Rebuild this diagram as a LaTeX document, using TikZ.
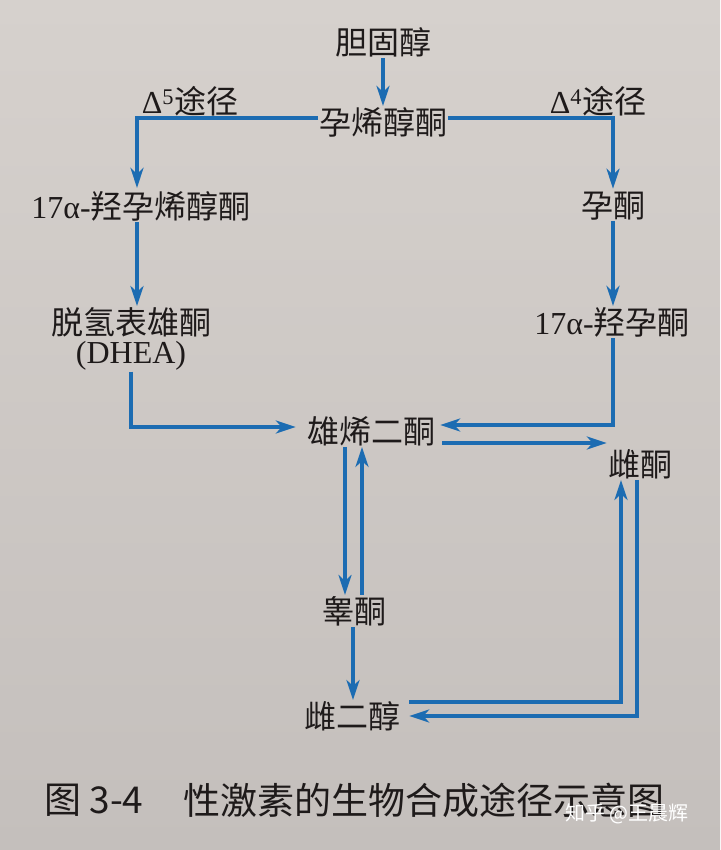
\documentclass[tikz,border=0pt]{standalone}
\usepackage{fontspec}
\setmainfont{Liberation Serif}
\newfontfamily\cjk{Noto Sans CJK SC}
\usetikzlibrary{arrows.meta}
\definecolor{papertop}{RGB}{214,209,205}
\definecolor{paperbot}{RGB}{196,191,188}
\definecolor{ink}{RGB}{30,26,26}
\definecolor{arr}{RGB}{28,108,178}
\newcommand\lat[1]{{\rmfamily #1}}
\begin{document}
\begin{tikzpicture}[x=1pt,y=-1pt,
  lbl/.style={font=\fontsize{32}{35}\selectfont\cjk, text=ink, inner sep=1pt},
  captxt/.style={font=\fontsize{37}{40}\selectfont\cjk, text=ink, inner sep=0pt},
  wm/.style={font=\fontsize{20}{22}\selectfont\cjk, text=white, inner sep=0pt},
  conn/.style={draw=arr, line width=3.4pt, -{Stealth[length=20pt,width=13pt,inset=6pt]}}]
\useasboundingbox (0,0) rectangle (720,850);
\shade[top color=papertop, bottom color=paperbot] (0,0) rectangle (720,850);

% nodes
\node[lbl] (chol) at (383,42) {胆固醇};
\node[lbl] (preg) at (383,122) {孕烯醇酮};
\node[lbl] (d5) at (190,101) {\lat{Δ\textsuperscript{5}}途径};
\node[lbl] (d4) at (598,101) {\lat{Δ\textsuperscript{4}}途径};
\node[lbl] (ohpreg) at (141,206) {\lat{17α-}羟孕烯醇酮};
\node[lbl] (prog) at (613,206) {孕酮};
\node[lbl] (dhea) at (131,322) {脱氢表雄酮};
\node[lbl] (dheaab) at (131,356) {\lat{(DHEA)}};
\node[lbl] (ohprog) at (612,322) {\lat{17α-}羟孕酮};
\node[lbl] (andro) at (371,431) {雄烯二酮};
\node[lbl] (estrone) at (640,464) {雌酮};
\node[lbl] (testo) at (354,611) {睾酮};
\node[lbl] (estradiol) at (352,716) {雌二醇};

% caption and watermark
\node[captxt, anchor=west] (capnum) at (44,800) {图 3-4};
\node[captxt, anchor=west] (captext) at (183,800) {性激素的生物合成途径示意图};
\node[wm, anchor=west] (mark) at (565,814) {知乎 @王晨辉};

% connectors
\draw[conn] (chol.south) -- (preg.north);
\draw[conn, shorten >=2pt] ([yshift=4pt]preg.west) -| ([xshift=-4pt]ohpreg.north);
\draw[conn, shorten >=2pt] ([yshift=4pt]preg.east) -| (prog.north);
\draw[conn] ([xshift=-4pt]ohpreg.south) -- ([xshift=-4pt]ohpreg.south |- dhea.north);
\draw[conn] (prog.south) -- (prog.south |- ohprog.north);
\draw[conn, shorten >=10pt] (dheaab.south) |- ([yshift=4pt]andro.west);
\draw[conn, shorten >=4pt] (ohprog.south -| prog.south) |- ([yshift=6pt]andro.east);
\draw[conn, shorten <=6pt] ([yshift=-12pt]andro.east) -- ([yshift=-12pt]andro.east -| estrone.west);
\draw[conn] ([xshift=-26pt]andro.south) -- ([xshift=-26pt]andro.south |- testo.north);
\draw[conn] ([xshift=8pt]testo.north) -- ([xshift=8pt]testo.north |- andro.south);
\draw[conn] ([xshift=-1pt]testo.south) -- ([xshift=-1pt]testo.south |- estradiol.north);
\draw[conn, shorten <=8pt] ([yshift=14pt]estradiol.east) -| ([xshift=-19pt]estrone.south);
\draw[conn, shorten >=8pt] ([xshift=-3pt]estrone.south) |- ([yshift=0pt]estradiol.east);
\end{tikzpicture}
\end{document}
